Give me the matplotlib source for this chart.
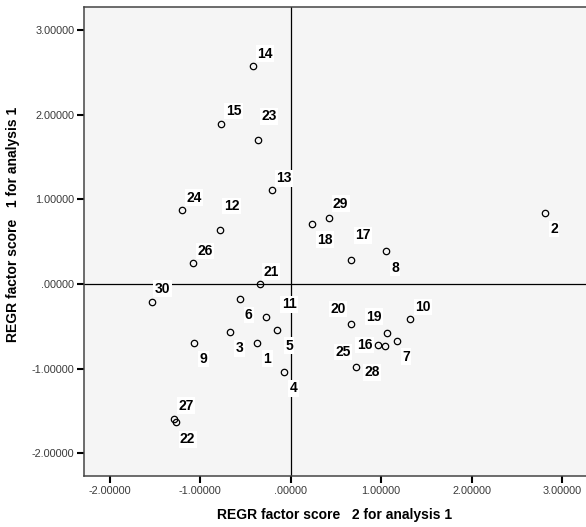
import numpy as np
import matplotlib.pyplot as plt
from matplotlib.ticker import FuncFormatter

# case numbers and their two factor scores
cases = [14, 15, 23, 13, 24, 12, 26, 21, 30, 6, 11, 5, 3, 1, 9, 4, 27, 22,
         2, 29, 18, 17, 8, 20, 19, 10, 7, 16, 25, 28]
score2 = [-0.416, -0.765, -0.357, -0.203, -1.202, -0.776, -1.077, -0.335, -1.537,
          -0.562, -0.272, -0.151, -0.666, -0.368, -1.063, -0.070, -1.287, -1.272,
          2.811, 0.419, 0.235, 0.665, 1.054, 0.665, 1.065, 1.315, 1.176, 0.970,
          1.043, 0.724]
score1 = [2.577, 1.889, 1.696, 1.106, 0.877, 0.638, 0.248, 0.004, -0.209,
          -0.177, -0.394, -0.539, -0.571, -0.693, -0.697, -1.043, -1.590, -1.633,
          0.838, 0.783, 0.712, 0.280, 0.390, -0.472, -0.575, -0.413, -0.669, -0.720,
          -0.732, -0.984]

# label offsets from each point, in pixels (right, down)
offs = [(12, -12), (12, -13), (11, -24), (12, -12), (12, -12), (11, -24), (12, -12),
        (11, -12), (11, -13), (9, 16), (23, -13), (12, 16), (9, 16), (10, 16),
        (9, 16), (9, 16), (12, -13), (12, 17),
        (9, 16), (12, -14), (13, 16), (12, -25), (9, 17), (-13, -15), (-13, -16),
        (13, -12), (9, 16), (-14, 0), (-42, 6), (16, 5)]

fig = plt.figure(figsize=(5.86, 5.27), dpi=100)
ax = fig.add_axes([0.1433, 0.0968, 0.8567, 0.889])
ax.set_facecolor('#f5f5f5')

ax.axhline(0, color='black', lw=0.9, zorder=1)
ax.axvline(0, color='black', lw=0.9, zorder=1)

ax.plot(score2, score1, 'o', mfc='none', mec='black', ms=4.6, mew=0.9, zorder=3)

for c, x, y, (dx, dy) in zip(cases, score2, score1, offs):
    ax.annotate(str(c), (x, y), xytext=(dx * 0.72, -dy * 0.72), textcoords='offset points',
                ha='center', va='center', fontsize=10, fontweight='bold',
                family=['Liberation Sans Narrow', 'Liberation Sans'],
                bbox=dict(boxstyle='square,pad=0.1', fc='white', ec='none'))

ax.set_xlim(-2.284, 3.263)
ax.set_ylim(-2.266, 3.263)
ax.set_xticks([-2, -1, 0, 1, 2, 3])
ax.set_yticks([-2, -1, 0, 1, 2, 3])

fmt = FuncFormatter(lambda v, p: ('%.5f' % v).replace('0.', '.', 1) if abs(v) < 1 else '%.5f' % v)
ax.xaxis.set_major_formatter(fmt)
ax.yaxis.set_major_formatter(fmt)
ax.tick_params(direction='out', length=5, width=1.5, labelsize=7.8, labelcolor='#3a3a3a',
               pad=2)
for t in ax.get_xticklabels() + ax.get_yticklabels():
    t.set_family('Liberation Sans')

ax.spines['right'].set_visible(False)
for s in ['left', 'top', 'bottom']:
    ax.spines[s].set_linewidth(1.1)
    ax.spines[s].set_color('#444444')

ax.set_xlabel('REGR factor score   2 for analysis 1', fontsize=10, fontweight='bold',
              family='Liberation Sans', labelpad=9)
ax.set_ylabel('REGR factor score   1 for analysis 1', fontsize=10, fontweight='bold',
              family='Liberation Sans')
ax.yaxis.set_label_coords(-0.127, 0.538)

fig.savefig('out.png', dpi=100)
